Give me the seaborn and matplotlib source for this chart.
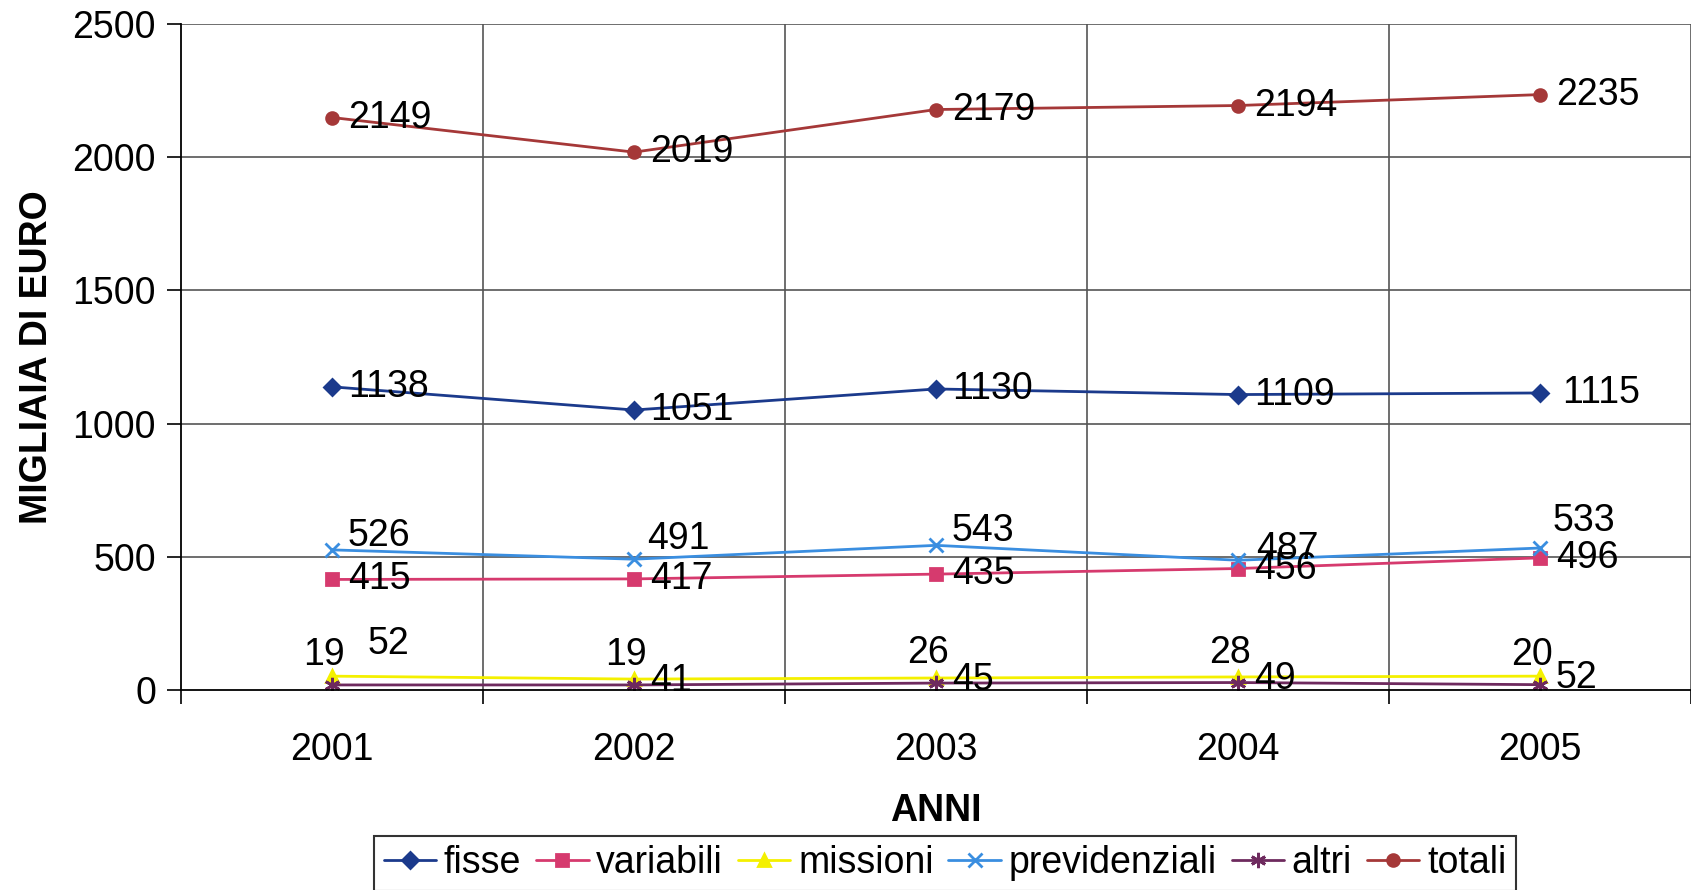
import matplotlib
matplotlib.use("Agg")
import matplotlib.pyplot as plt
import seaborn as sns
import numpy as np

# Data: spese per il personale, migliaia di euro
anni = ["2001", "2002", "2003", "2004", "2005"]
fisse = [1138, 1051, 1130, 1109, 1115]
variabili = [415, 417, 435, 456, 496]
missioni = [52, 41, 45, 49, 52]
previdenziali = [526, 491, 543, 487, 533]
altri = [19, 19, 26, 28, 20]
totali = [2149, 2019, 2179, 2194, 2235]

sns.set_theme(style="white")
plt.rcParams["font.family"] = ["Liberation Sans", "DejaVu Sans"]
plt.rcParams["text.color"] = "black"
plt.rcParams["axes.labelcolor"] = "black"
plt.rcParams["xtick.color"] = "black"
plt.rcParams["ytick.color"] = "black"

FS = 27
fig = plt.figure(figsize=(16.91, 8.90), dpi=100)
ax = fig.add_axes([181 / 1691, 1 - 690 / 890, 1 - 181 / 1691, (690 - 24) / 890])

x = np.arange(len(anni))

# series styling: (name, values, color, marker, markersize, label offsets in pixels, label alignment)
series = [
    ("fisse", fisse, "#1B3A8C", "D", 8.5, [(16, 0)] * 4 + [(22, 0)], "left"),
    ("variabili", variabili, "#D63A6E", "s", 8.5, [(16, 0)] * 5, "left"),
    ("missioni", missioni, "#F4F000", "^", 8.5, [(36, -32)] + [(16, 2)] * 4, "left"),
    ("previdenziali", previdenziali, "#3A8EE0", "x", 9.5,
     [(16, -14), (13, -20), (16, -14), (18, -11), (13, -27)], "left"),
    ("altri", altri, "#6E2A5E", (6, 2, 0), 11, [(-8, -30)] * 5, "center"),
    ("totali", totali, "#A53838", "o", 8.5, [(16, 0)] * 5, "left"),
]

for name, vals, color, marker, ms, offs, ha in series:
    sns.lineplot(x=x, y=vals, ax=ax, color=color, marker=marker, markersize=ms,
                 markeredgecolor=color, markerfacecolor=color, markeredgewidth=2,
                 linewidth=2.0, label=name, legend=False)
    for xi, v, (dx, dy) in zip(x, vals, offs):
        ax.annotate(str(v), (xi, v), xytext=(dx, -dy), textcoords="offset pixels",
                    ha=ha, va="center", fontsize=FS, color="black")

ax.set_xlim(-0.5, 4.5)
ax.set_ylim(0, 2500)
ax.set_yticks([0, 500, 1000, 1500, 2000, 2500])
ax.set_xticks(x)
ax.set_xticklabels(anni)
ax.set_xticks(np.arange(-0.5, 5.0, 1.0), minor=True)

ax.grid(False)
for yv in [500, 1000, 1500, 2000, 2500]:
    ax.axhline(yv, color="#555555", linewidth=1.2, zorder=0)
for xv in np.arange(0.5, 4.6, 1.0):
    ax.axvline(xv, color="#555555", linewidth=1.2, zorder=0)

for side in ["top", "right"]:
    ax.spines[side].set_visible(False)
for side in ["left", "bottom"]:
    ax.spines[side].set_color("black")
    ax.spines[side].set_linewidth(1.3)

ax.tick_params(axis="y", which="major", length=10, width=1.2, color="black",
               labelcolor="black", left=True, labelsize=FS, pad=8)
ax.tick_params(axis="x", which="major", length=0, labelcolor="black", labelsize=FS, pad=30)
ax.tick_params(axis="x", which="minor", length=10, width=1.2, color="black", bottom=True)

ax.set_xlabel("ANNI", fontsize=FS, fontweight="bold", labelpad=18, color="black")
ax.set_ylabel("MIGLIAIA DI EURO", fontsize=FS, fontweight="bold", color="black")
ax.yaxis.set_label_coords((55 - 181) / 1510, 0.5)

handles, labels = ax.get_legend_handles_labels()
leg = fig.legend(handles, labels, loc="upper center", bbox_to_anchor=(945 / 1691, 1 - 836 / 890),
                 ncol=6, fontsize=FS, frameon=True, fancybox=False, edgecolor="black",
                 handlelength=1.4, handletextpad=0.2, columnspacing=0.4,
                 borderpad=0.25, borderaxespad=0)
leg.get_frame().set_linewidth(1.5)
for t in leg.get_texts():
    t.set_color("black")

fig.savefig("out.png", dpi=100, facecolor="white")
